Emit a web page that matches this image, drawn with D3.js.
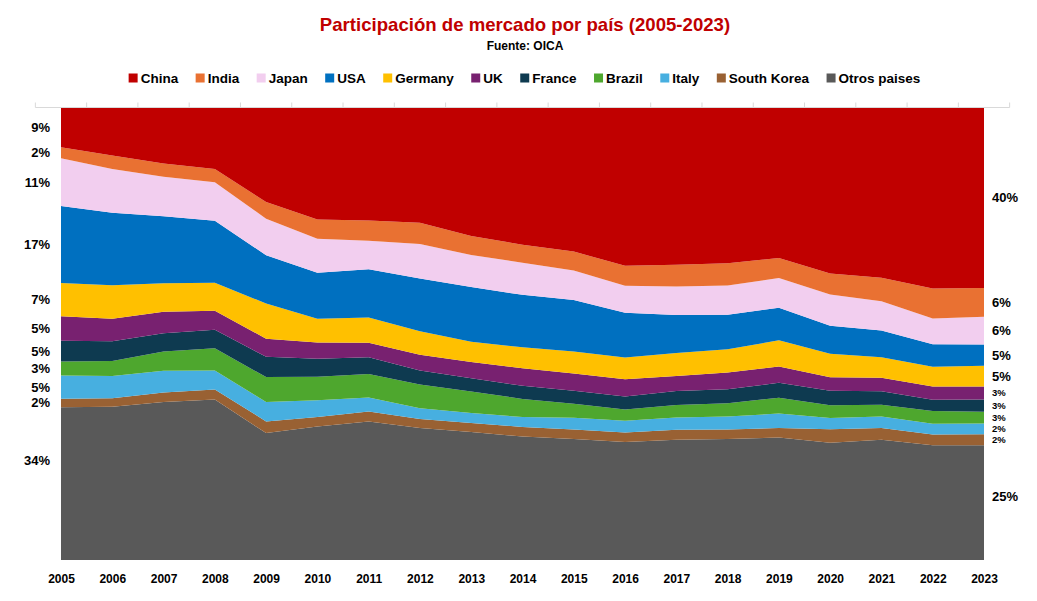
<!DOCTYPE html>
<html>
<head>
<meta charset="utf-8">
<script src="https://cdn.jsdelivr.net/npm/d3@7"></script>
<style>
  body { margin: 0; background: #fff; }
  svg { display: block; }
  text { font-family: "Liberation Sans", Arial, sans-serif; }
</style>
</head>
<body>
<svg id="chart" width="1037" height="601"></svg>
<script>
// ---- data (market share, %) ----
const years = [2005, 2006, 2007, 2008, 2009, 2010, 2011, 2012, 2013, 2014, 2015, 2016, 2017, 2018, 2019, 2020, 2021, 2022, 2023];
const countries = ["China", "India", "Japan", "USA", "Germany", "UK", "France", "Brazil", "Italy", "South Korea", "Otros paises"];

const china      = [8.7, 10.5, 12.3, 13.5, 20.8, 24.7, 24.9, 25.4, 28.3, 30.2, 31.8, 34.9, 34.7, 34.4, 33.2, 36.6, 37.5, 40.0, 39.8];
const india      = [2.4, 3.0, 2.9, 2.9, 3.7, 4.3, 4.5, 4.7, 4.2, 4.0, 4.2, 4.4, 4.8, 4.9, 4.4, 4.6, 5.2, 6.6, 6.4];
const japan      = [10.6, 9.7, 8.8, 8.5, 8.1, 7.5, 6.3, 7.6, 7.1, 7.1, 6.5, 6.0, 6.3, 6.5, 6.6, 6.9, 6.5, 5.7, 6.1];
const usa        = [17.0, 16.0, 14.8, 13.7, 10.7, 10.2, 10.7, 11.7, 12.1, 11.6, 11.4, 9.9, 8.4, 7.6, 7.2, 6.2, 5.9, 5.0, 4.7];
const germany    = [7.4, 7.4, 6.3, 6.2, 7.8, 5.3, 5.6, 5.2, 4.5, 4.6, 4.9, 4.8, 5.1, 5.2, 5.8, 5.2, 4.5, 4.4, 4.6];
const uk         = [5.4, 5.0, 4.8, 4.2, 4.0, 3.6, 3.2, 3.5, 3.6, 3.9, 3.8, 3.8, 3.3, 3.7, 3.6, 3.0, 3.0, 2.9, 2.9];
const france     = [4.6, 4.4, 4.0, 4.1, 4.5, 4.0, 3.7, 3.1, 2.9, 2.9, 2.9, 2.9, 3.1, 3.1, 3.3, 3.2, 3.0, 2.5, 2.7];
const brazil     = [3.1, 3.3, 4.3, 4.9, 5.5, 5.2, 5.2, 5.2, 4.8, 4.0, 3.1, 2.5, 2.8, 2.9, 3.5, 2.8, 2.6, 2.8, 2.6];
const italy      = [5.1, 4.9, 4.8, 4.2, 4.3, 3.7, 3.1, 2.4, 2.2, 2.2, 2.6, 2.6, 2.7, 2.9, 3.2, 2.5, 2.5, 2.4, 2.4];
const southKorea = [1.9, 1.9, 2.1, 2.2, 2.6, 2.1, 2.2, 2.0, 2.0, 2.1, 2.1, 2.1, 2.2, 2.1, 2.1, 3.0, 2.6, 2.4, 2.4];
const otros      = [33.8, 33.9, 35.0, 35.5, 28.1, 29.6, 30.7, 29.2, 28.3, 27.3, 26.8, 26.1, 26.6, 26.8, 27.1, 25.9, 26.6, 25.4, 25.4];

const seriesValues = [china, india, japan, usa, germany, uk, france, brazil, italy, southKorea, otros];
const colors = ["#C00000", "#E97132", "#F2CEEF", "#0070C0", "#FFC000", "#782170", "#0E3A50", "#4EA72E", "#47AFE0", "#996133", "#595959"];

const titleText = "Participación de mercado por país (2005-2023)";
const subtitleText = "Fuente: OICA";

// ---- layout ----
const svg = d3.select("#chart");
const margin = { left: 61, right: 53, top: 108, bottom: 41 };
const W = 1037, H = 601;
const x0 = margin.left, x1 = W - margin.right;
const y0 = margin.top, y1 = H - margin.bottom;

const rows = years.map((yr, i) => {
  const r = { year: yr };
  countries.forEach((c, k) => { r[c] = seriesValues[k][i]; });
  return r;
});

// stack bottom to top: Otros first ... China last (top)
const stackOrder = countries.slice().reverse();
const stack = d3.stack().keys(stackOrder).offset(d3.stackOffsetExpand);
const layers = stack(rows);

const x = d3.scaleLinear().domain([years[0], years[years.length - 1]]).range([x0, x1]);
const y = d3.scaleLinear().domain([0, 1]).range([y1, y0]);
const color = d3.scaleOrdinal().domain(countries).range(colors);

const area = d3.area()
  .x(d => x(d.data.year))
  .y0(d => y(d[0]))
  .y1(d => y(d[1]));

svg.append("g").selectAll("path")
  .data(layers)
  .join("path")
  .attr("d", area)
  .attr("fill", d => color(d.key));

// top category axis line with tick marks between categories
const step = x(years[1]) - x(years[0]);
const gTop = svg.append("g").attr("transform", `translate(0,${y0 - 0.5})`);
gTop.append("line")
  .attr("x1", x0 - step / 2).attr("x2", x1 + step / 2)
  .attr("stroke", "#d9d9d9");
const bounds = years.concat([years[years.length - 1] + 1]).map(yv => x(yv - 0.5));
gTop.selectAll("line.b").data(bounds).join("line")
  .attr("class", "b")
  .attr("x1", d => d).attr("x2", d => d)
  .attr("y1", 0).attr("y2", -5)
  .attr("stroke", "#d9d9d9");

// bottom year labels
const bottomAxis = d3.axisBottom(x).tickValues(years).tickFormat(d3.format("d")).tickSize(0).tickPadding(14);
const gBot = svg.append("g").attr("transform", `translate(0,${y1})`).call(bottomAxis);
gBot.select(".domain").remove();
gBot.selectAll("text")
  .attr("font-family", '"Liberation Sans", Arial, sans-serif')
  .attr("font-size", 12).attr("font-weight", "bold").attr("fill", "#000");

// data labels at first and last year
const fmt = v => Math.round(v * 100) + "%";
const lastIdx = years.length - 1;
const lbl = svg.append("g");
layers.forEach(layer => {
  const a = layer[0];
  const b = layer[lastIdx];
  const isBase = layer.key === "Otros paises";
  const fa = isBase ? 0.65 : 0.5;
  const fb = isBase ? 0.55 : 0.5;
  lbl.append("text")
    .attr("x", x0 - 11)
    .attr("y", y(a[0] + (a[1] - a[0]) * fa))
    .attr("dy", "0.35em")
    .attr("text-anchor", "end")
    .attr("font-size", 13).attr("font-weight", "bold").attr("fill", "#000")
    .text(fmt(a[1] - a[0]));
  const v = b[1] - b[0];
  const small = v < 0.04;
  lbl.append("text")
    .attr("x", x1 + 8)
    .attr("y", y(b[0] + v * fb))
    .attr("dy", "0.35em")
    .attr("text-anchor", "start")
    .attr("font-size", small ? 9.5 : 13).attr("font-weight", "bold").attr("fill", "#000")
    .text(fmt(v));
});

// title & subtitle
svg.append("text")
  .attr("x", 525).attr("y", 31)
  .attr("text-anchor", "middle")
  .attr("font-size", 18.6).attr("font-weight", "bold").attr("fill", "#C00000")
  .text(titleText);
svg.append("text")
  .attr("x", 525).attr("y", 50)
  .attr("text-anchor", "middle")
  .attr("font-size", 12).attr("font-weight", "bold").attr("fill", "#000")
  .text(subtitleText);

// legend
const legend = svg.append("g").attr("transform", "translate(0,78)");
const items = legend.selectAll("g").data(countries).join("g");
items.append("rect").attr("width", 9).attr("height", 9).attr("y", -4.5).attr("fill", d => color(d));
items.append("text").attr("x", 12).attr("dy", "0.35em")
  .attr("font-size", 13.5).attr("font-weight", "bold").attr("fill", "#000")
  .text(d => d);
const gap = 17.5;
const widths = [];
items.each(function () {
  widths.push(12 + d3.select(this).select("text").node().getComputedTextLength());
});
const total = d3.sum(widths) + gap * (widths.length - 1);
let start = 524.5 - total / 2;
items.attr("transform", (d, i) => {
  const t = `translate(${start},0)`;
  start += widths[i] + gap;
  return t;
});
</script>
</body>
</html>
